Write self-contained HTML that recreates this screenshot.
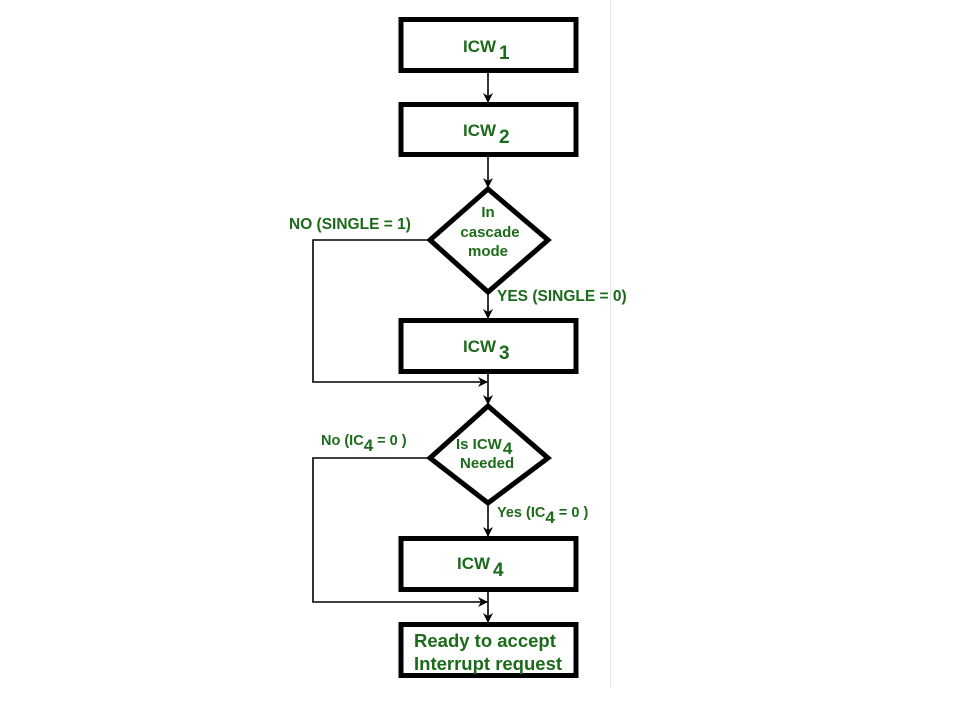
<!DOCTYPE html>
<html><head><meta charset="utf-8"><style>
html,body{margin:0;padding:0;background:#fff;width:960px;height:720px;overflow:hidden}
text{font-family:"Liberation Sans",Arial,sans-serif;font-weight:bold;fill:#1b6b1b}
</style></head><body>
<svg width="960" height="720" viewBox="0 0 960 720" xmlns="http://www.w3.org/2000/svg">
<defs><marker id="a" markerWidth="10" markerHeight="10" refX="9" refY="5" orient="auto" markerUnits="userSpaceOnUse"><path d="M0,0 L10,5 L0,10 L3,5 z" fill="#000"/></marker></defs>
<line x1="610.5" y1="0" x2="610.5" y2="688" stroke="#e4e4e4" stroke-width="1"/>
<g fill="none" stroke="#000" stroke-width="5">
<rect x="401" y="19.5" width="175" height="51"/>
<rect x="401" y="104.5" width="175" height="50"/>
<polygon points="488,189 548,240 488,292 430,240"/>
<rect x="401" y="320.5" width="175" height="51"/>
<polygon points="488,406 548,458 488,503 430,458"/>
<rect x="401" y="538.5" width="175" height="51"/>
<rect x="401" y="624.5" width="175" height="51"/>
</g>
<g stroke="#000" stroke-width="1.6" fill="none">
<line x1="488" y1="72" x2="488" y2="102" marker-end="url(#a)"/>
<line x1="488" y1="156" x2="488" y2="187" marker-end="url(#a)"/>
<line x1="488" y1="293" x2="488" y2="318" marker-end="url(#a)"/>
<polyline points="428,240 313,240 313,382 487,382" marker-end="url(#a)"/>
<line x1="488" y1="373" x2="488" y2="404" marker-end="url(#a)"/>
<line x1="488" y1="505" x2="488" y2="536" marker-end="url(#a)"/>
<polyline points="428,458 313,458 313,602 487,602" marker-end="url(#a)"/>
<line x1="488" y1="592" x2="488" y2="622" marker-end="url(#a)"/>
</g>
<text x="463" y="52" font-size="17">ICW<tspan font-size="19" dx="3" dy="7">1</tspan></text>
<text x="463" y="136" font-size="17">ICW<tspan font-size="19" dx="3" dy="7">2</tspan></text>
<text x="463" y="352" font-size="17">ICW<tspan font-size="19" dx="3" dy="7">3</tspan></text>
<text x="457" y="569" font-size="17">ICW<tspan font-size="19" dx="3" dy="7">4</tspan></text>
<text x="488" y="217" font-size="15" text-anchor="middle">In</text>
<text x="490" y="237" font-size="15" text-anchor="middle">cascade</text>
<text x="488" y="256" font-size="15" text-anchor="middle">mode</text>
<text x="456" y="449" font-size="15">Is ICW<tspan font-size="17" dx="1" dy="5">4</tspan></text>
<text x="460" y="468" font-size="15">Needed</text>
<text x="289" y="229" font-size="15.5">NO (SINGLE = 1)</text>
<text x="497" y="301" font-size="15.5">YES (SINGLE = 0)</text>
<text x="321" y="445" font-size="14.5">No (IC<tspan font-size="17" dy="6">4</tspan><tspan dy="-6"> = 0 )</tspan></text>
<text x="497" y="517" font-size="14.5">Yes  (IC<tspan font-size="17" dy="6">4</tspan><tspan dy="-6"> = 0 )</tspan></text>
<text x="414" y="647" font-size="18.5">Ready to accept</text>
<text x="414" y="670" font-size="18.5">Interrupt request</text>
</svg>
</body></html>
